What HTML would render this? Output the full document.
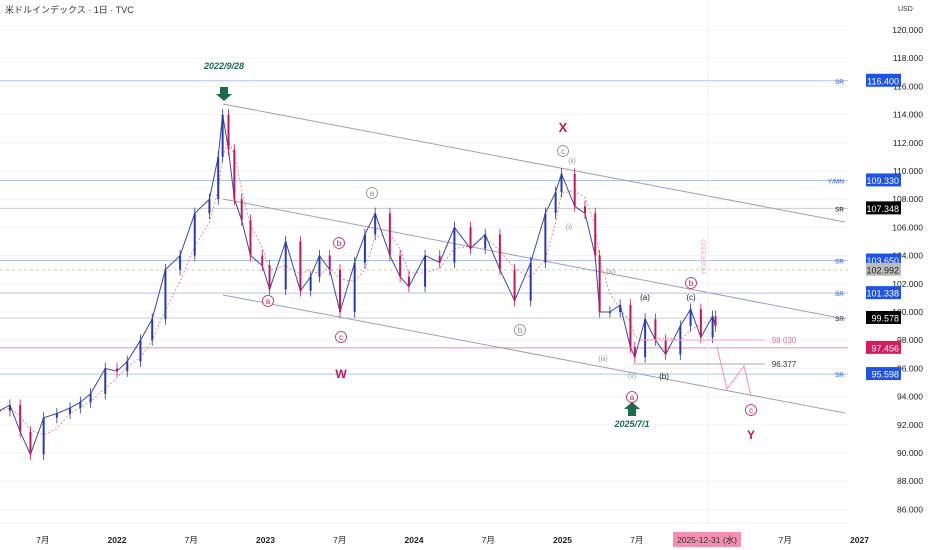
<!DOCTYPE html>
<html><head><meta charset="utf-8">
<style>
body{margin:0;background:#fff;font-family:"Liberation Sans","Noto Sans CJK JP",sans-serif;}
#wrap{position:relative;width:932px;height:550px;overflow:hidden;background:#fff}
svg text{font-family:"Liberation Sans","Noto Sans CJK JP",sans-serif}
</style></head>
<body>
<div id="wrap">
<svg id="chart" width="932" height="550">
<text x="5" y="13" font-size="9" fill="#333">米ドルインデックス · 1日 · TVC</text>
<text x="898" y="11" font-size="7" fill="#333">USD</text>
<line x1="0" y1="523" x2="848" y2="523" stroke="#eee"/>
</svg>
</div>
<script>
const dates=[2021.20,2021.27,2021.34,2021.41,2021.50,2021.59,2021.68,2021.75,2021.82,2021.92,2022.00,2022.07,2022.16,2022.24,2022.33,2022.43,2022.53,2022.63,2022.69,2022.72,2022.76,2022.80,2022.85,2022.91,2022.99,2023.04,2023.15,2023.25,2023.32,2023.38,2023.45,2023.52,2023.62,2023.69,2023.76,2023.86,2023.93,2023.99,2024.10,2024.20,2024.30,2024.41,2024.51,2024.61,2024.71,2024.82,2024.92,2024.99,2025.03,2025.12,2025.19,2025.26,2025.29,2025.36,2025.43,2025.50,2025.53,2025.60,2025.67,2025.74,2025.84,2025.91,2025.98,2026.06,2026.08];
const closes=[93.0,93.4,91.5,89.9,92.5,92.8,93.2,93.6,94.2,96.0,95.8,96.5,98.0,99.5,103.0,104.0,107.0,108.0,111.0,114.0,111.5,108.0,106.5,104.0,103.3,101.6,105.0,101.5,102.5,104.0,103.0,100.0,103.5,105.5,107.0,104.0,102.5,101.8,104.0,103.5,106.0,104.5,105.5,103.0,100.8,103.5,107.0,108.5,109.8,107.5,107.0,104.0,100.0,100.0,100.5,97.5,96.8,99.5,98.0,97.0,99.0,100.2,98.2,99.7,99.0];
const priceTicks=[120,118,116,114,112,110,108,106,104,102,100,98,96,94,92,90,88,86];
const timeTicks=[2021.5,2022,2022.5,2023,2023.5,2024,2024.5,2025,2025.5,2026.5,2027];
const timeLabels=["7月","2022","7月","2023","7月","2024","7月","2025","7月","7月","2027"];
const levels=[116.4,109.33,107.348,103.65,102.992,101.338,99.578,97.456,95.598];
const levelColors=["#1e53e5","#1e53e5","#000","#1e53e5","#aaa","#1e53e5","#000","#d81b60","#1e53e5"];
const levelTags=["SR","Y/MN","SR","SR","","SR","SR","","SR"];

const NS="http://www.w3.org/2000/svg";
const svg=document.getElementById('chart');
const X=t=>117+(t-2022)*146.7;
const Y=v=>171+(110-v)*14.1;
function mk(tag,attrs,parent){const e=document.createElementNS(NS,tag);for(const k in attrs)e.setAttribute(k,attrs[k]);(parent||svg).appendChild(e);return e;}

priceTicks.forEach(p=>{const l=mk('line',{x1:0,x2:848,y1:Y(p),y2:Y(p),stroke:'#f3f3f3'});

const t=mk('text',{x:923,y:Y(p)+3,'font-size':8.5,fill:'#222','text-anchor':'end'});t.textContent=p.toFixed(3);
});
timeTicks.forEach((tt,i)=>{const tx=mk('text',{x:X(tt)+(tt-2022)*1.8,y:543,'font-size':8.5,fill:'#222','text-anchor':'middle','font-weight':timeLabels[i].length>3?'bold':'normal'});tx.textContent=timeLabels[i];
});

levels.forEach((lv,i)=>{const y=Y(lv);
const l=mk('line',{x1:0,x2:848,y1:y,y2:y,stroke:levelColors[i]==='#000'?'#999':(levelColors[i]==='#aaa'?'#999':levelColors[i]),'stroke-opacity':levelColors[i]==='#1e53e5'?0.35:0.5,'stroke-dasharray':levelColors[i]==='#aaa'?'3,3':'none'});

if(levelTags[i]){const tg=mk('text',{x:844,y:y+3,'font-size':6.5,fill:levelColors[i]==='#000'?'#000':'#1e53e5','text-anchor':'end'});tg.textContent=levelTags[i];
}
const r=mk('rect',{x:866,y:y-7,width:35,height:13,fill:levelColors[i]==='#aaa'?'#bbb':levelColors[i]});

const t=mk('text',{x:899,y:y+3.5,'font-size':9,fill:levelColors[i]==='#aaa'?'#222':'#fff','text-anchor':'end'});t.textContent=lv.toFixed(3);
});

[[104,222],[199,319],[295,413]].forEach(c=>{const l=mk('line',{x1:223,y1:c[0],x2:845,y2:c[1],stroke:'#a0a0b8','stroke-width':1});
});
const ye=mk('line',{x1:708,x2:708,y1:0,y2:523,stroke:'#ececf0'});
const yet=mk('text',{x:0,y:0,'font-size':7,fill:'#f4a6c0',transform:'translate(706,275) rotate(-90)'});yet.textContent='YEAR END';


let ma='';closes.forEach((c,i)=>{const s=closes.slice(Math.max(0,i-2),i+1);const a=s.reduce((p,q)=>p+q,0)/s.length;ma+=(i?'L':'M')+X(dates[i]).toFixed(1)+','+Y(a).toFixed(1);});
const mp=mk('path',{d:ma,fill:'none',stroke:'#e57373','stroke-width':0.8,'stroke-dasharray':'2,2'});


let ln='';closes.forEach((c,i)=>{ln+=(i?'L':'M')+X(dates[i]).toFixed(1)+','+Y(c).toFixed(1);});
const lp=mk('path',{d:ln,fill:'none',stroke:'#3949ab','stroke-width':1});

closes.forEach((c,i)=>{const o=i?closes[i-1]:c;const x=X(dates[i]);const up=c>=o;const col=up?'#2a3aa8':'#c2185b';
const hi=Math.max(o,c)+0.4,lo=Math.min(o,c)-0.4;
const w=mk('line',{x1:x,x2:x,y1:Y(hi),y2:Y(lo),stroke:col,'stroke-width':0.8});

const b=mk('rect',{x:x-1,y:Y(Math.max(o,c)),width:2,height:Math.max(1,Math.abs(Y(o)-Y(c))),fill:col});
});

const pj=mk('path',{d:'M717,347 L727,389 L744,366 L751,396',fill:'none',stroke:'#f48fb1','stroke-width':1});

const l1=mk('line',{x1:640,x2:765,y1:340,y2:340,stroke:'#f4a6c0'});
const l2=mk('line',{x1:633,x2:765,y1:364,y2:364,stroke:'#aaa'});

function txt(x,y,s,col,size,name,bold,italic){const t=mk('text',{x:x,y:y,'font-size':size,fill:col,'text-anchor':'middle','font-weight':bold?'bold':'normal','font-style':italic?'italic':'normal'});t.textContent=s;
return t;}
function circ(x,y,s,col,name){const c=mk('circle',{cx:x,cy:y,r:5.5,fill:'#fff',stroke:col,'stroke-width':0.8});
txt(x,y+3,s,col,8,name+'-text');}
txt(784,343,'98.030','#e57398',8,'target-value');
txt(784,367,'96.377','#333',8,'target-value');
txt(224,69,'2022/9/28','#1b6b4a',9,'peak-date',true,true);
txt(632,427,'2025/7/1','#1b6b4a',9,'low-date',true,true);
const a1=mk('path',{d:'M220,87h8v7h4l-8,7l-8,-7h4z',fill:'#1b6b4a'});
const a2=mk('path',{d:'M628,416h8v-7h4l-8,-7l-8,7h4z',fill:'#1b6b4a'});
txt(563,132,'X','#c2185b',13,'wave-x',true);
txt(341,378,'W','#c2185b',12,'wave-w',true);
txt(751,439,'Y','#c2185b',12,'wave-y',true);
circ(268,301,'a','#c2185b','wave-a');circ(339,243,'b','#c2185b','wave-b');circ(341,337,'c','#c2185b','wave-c');
circ(372,193,'a','#888','wave-a-gray');circ(520,330,'b','#888','wave-b-gray');circ(563,151,'c','#888','wave-c-gray');
circ(632,397,'a','#c2185b','wave-a2');circ(691,283,'b','#c2185b','wave-b2');circ(751,410,'c','#c2185b','wave-c2');
txt(572,163,'(ii)','#999',7,'subwave');txt(569,229,'(i)','#999',7,'subwave');txt(611,274,'(iv)','#999',7,'subwave');
txt(603,361,'(iii)','#999',7,'subwave');txt(632,378,'(v)','#999',7,'subwave');
txt(645,300,'(a)','#222',8,'subwave');txt(664,379,'(b)','#222',8,'subwave');txt(691,300,'(c)','#222',8,'subwave');
const db=mk('rect',{x:673,y:532,width:68,height:15,fill:'#f48fb1'});
txt(707,543,'2025-12-31 (水)','#333',8.5,'crosshair-date');
</script>
</body></html>
